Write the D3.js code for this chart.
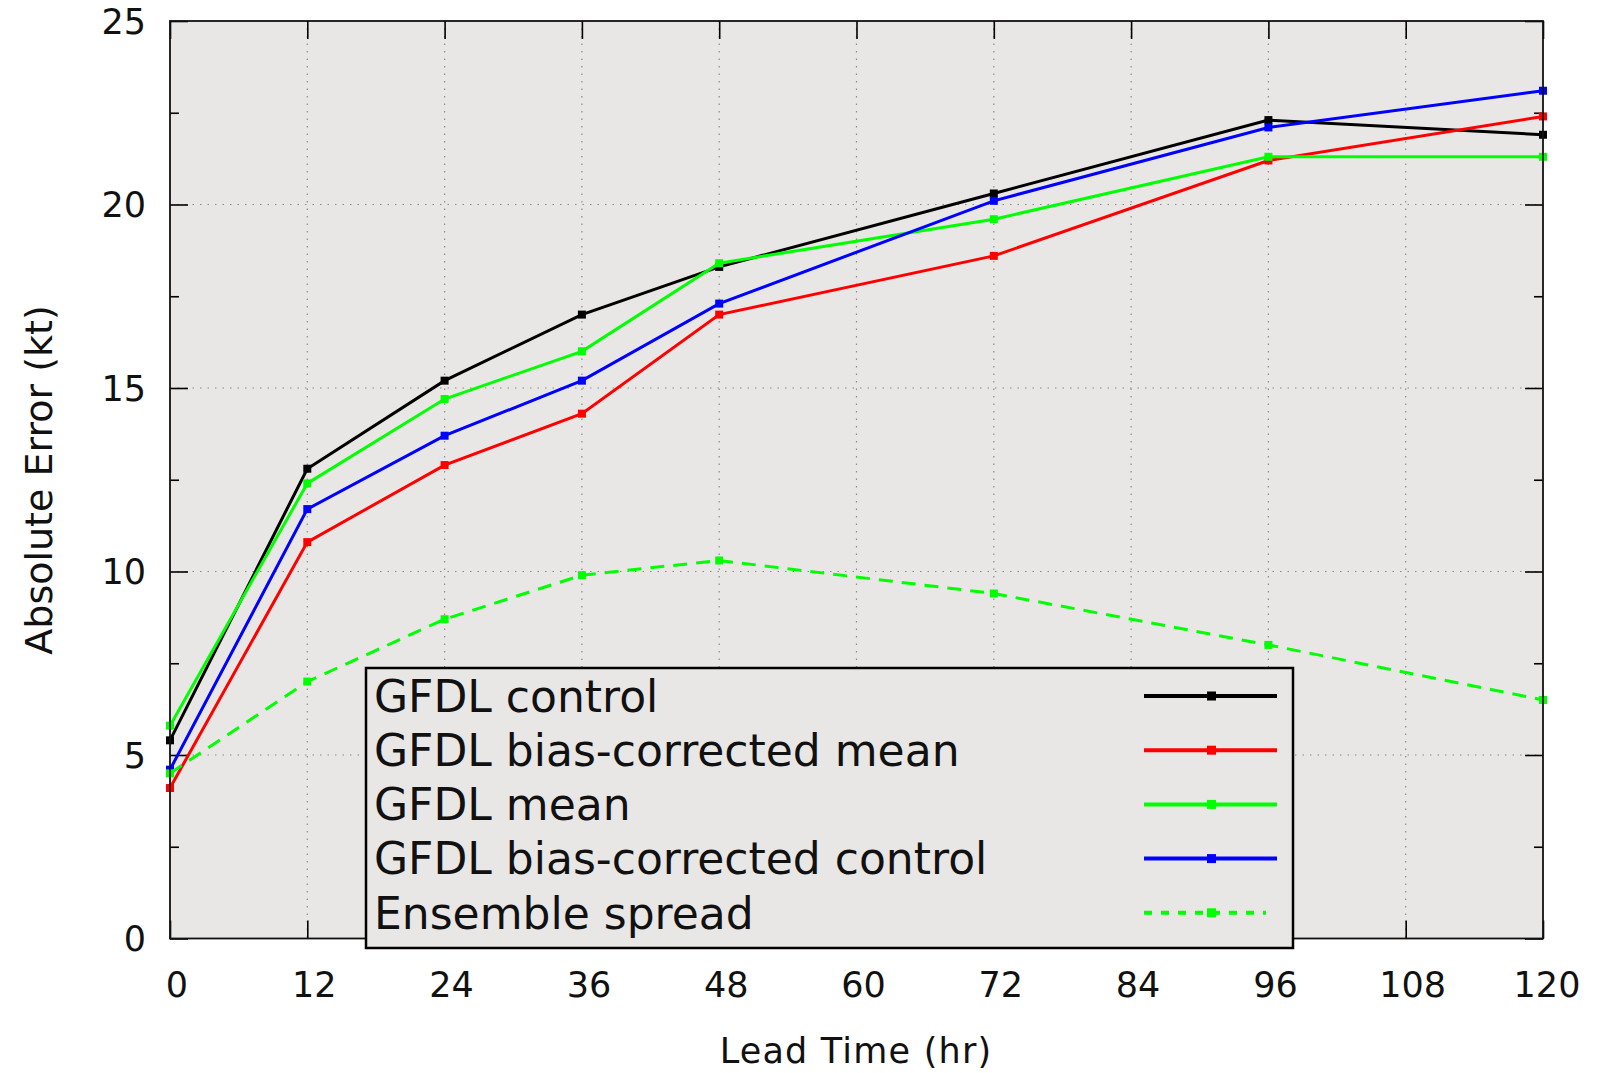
<!DOCTYPE html>
<html><head><meta charset="utf-8">
<script src="https://cdn.jsdelivr.net/npm/d3@7"></script>
<style>html,body{margin:0;padding:0;background:#fff;}svg{display:block;}</style>
</head><body>
<script>
const leadTimes = [0, 12, 24, 36, 48, 72, 96, 120];
const gfdlControl = [5.4, 12.8, 15.2, 17.0, 18.3, 20.3, 22.3, 21.9];
const gfdlBiasCorrectedMean = [4.1, 10.8, 12.9, 14.3, 17.0, 18.6, 21.2, 22.4];
const gfdlMean = [5.8, 12.4, 14.7, 16.0, 18.4, 19.6, 21.3, 21.3];
const gfdlBiasCorrectedControl = [4.6, 11.7, 13.7, 15.2, 17.3, 20.1, 22.1, 23.1];
const ensembleSpread = [4.5, 7.0, 8.7, 9.9, 10.3, 9.4, 8.0, 6.5];
const seriesNames = ["GFDL control", "GFDL bias-corrected mean", "GFDL mean", "GFDL bias-corrected control", "Ensemble spread"];
const xTicks = [0, 12, 24, 36, 48, 60, 72, 84, 96, 108, 120];
const yTicks = [0, 5, 10, 15, 20, 25];
const yMinorTicks = [2.5, 7.5, 12.5, 17.5, 22.5];
const xLabel = "Lead Time (hr)";
const yLabel = "Absolute Error (kt)";

const series = [
  {name: seriesNames[0], values: gfdlControl, color: "#000000", dash: null},
  {name: seriesNames[1], values: gfdlBiasCorrectedMean, color: "#ff0000", dash: null},
  {name: seriesNames[2], values: gfdlMean, color: "#00ff00", dash: null},
  {name: seriesNames[3], values: gfdlBiasCorrectedControl, color: "#0000ff", dash: null},
  {name: seriesNames[4], values: ensembleSpread, color: "#00ff00", dash: "14,9"}
];

const W = 1601, H = 1073;
const L = 170, R = 1543, T = 21, B = 938.5;
const font = "'DejaVu Sans', Verdana, sans-serif";

const svg = d3.select("body").append("svg").attr("width", W).attr("height", H);
const x = d3.scaleLinear().domain([0, 120]).range([L, R]);
const y = d3.scaleLinear().domain([0, 25]).range([B, T]);

svg.append("rect").attr("x", L).attr("y", T).attr("width", R - L).attr("height", B - T).attr("fill", "#e9e7e5");

// grid
const grid = svg.append("g").attr("stroke", "#8a8a8a").attr("stroke-width", 1.2).attr("stroke-dasharray", "1.5,6");
grid.selectAll("line.gx").data(xTicks.slice(1, -1)).join("line")
  .attr("x1", d => x(d)).attr("x2", d => x(d)).attr("y1", T).attr("y2", B);
grid.selectAll("line.gy").data(yTicks.slice(1, -1)).join("line")
  .attr("y1", d => y(d)).attr("y2", d => y(d)).attr("x1", L).attr("x2", R);

// axes with inward ticks (mirror on top/right)
const tickStyle = g => { g.select(".domain").remove(); g.selectAll(".tick line").attr("stroke", "#000").attr("stroke-width", 1.6); };
svg.append("g").attr("transform", `translate(0,${B})`)
  .call(d3.axisBottom(x).tickValues(xTicks).tickSizeInner(-18).tickSizeOuter(0).tickFormat(() => ""))
  .call(tickStyle);
svg.append("g").attr("transform", `translate(0,${T})`)
  .call(d3.axisTop(x).tickValues(xTicks).tickSizeInner(-18).tickSizeOuter(0).tickFormat(() => ""))
  .call(tickStyle);
svg.append("g").attr("transform", `translate(${L},0)`)
  .call(d3.axisLeft(y).tickValues(yTicks).tickSizeInner(-18).tickSizeOuter(0).tickFormat(() => ""))
  .call(tickStyle);
svg.append("g").attr("transform", `translate(${R},0)`)
  .call(d3.axisRight(y).tickValues(yTicks).tickSizeInner(-18).tickSizeOuter(0).tickFormat(() => ""))
  .call(tickStyle);
svg.append("g").attr("transform", `translate(${L},0)`)
  .call(d3.axisLeft(y).tickValues(yMinorTicks).tickSizeInner(-9).tickSizeOuter(0).tickFormat(() => ""))
  .call(tickStyle);
svg.append("g").attr("transform", `translate(${R},0)`)
  .call(d3.axisRight(y).tickValues(yMinorTicks).tickSizeInner(-9).tickSizeOuter(0).tickFormat(() => ""))
  .call(tickStyle);

// tick labels
svg.append("g").selectAll("text").data(yTicks).join("text")
  .attr("x", 146).attr("y", d => y(d)).attr("dy", "0.36em").attr("text-anchor", "end")
  .attr("font-family", font).attr("font-size", 35).attr("fill", "#111").text(d => d);
svg.append("g").selectAll("text").data(xTicks).join("text")
  .attr("x", d => x(d) + (d === 120 ? 4 : 7)).attr("y", 997).attr("text-anchor", "middle")
  .attr("font-family", font).attr("font-size", 35).attr("fill", "#111").text(d => d);

// axis labels
svg.append("text").attr("x", 856).attr("y", 1063).attr("text-anchor", "middle")
  .attr("font-family", font).attr("font-size", 35).attr("letter-spacing", 1.2).attr("fill", "#111").text(xLabel);
svg.append("text").attr("transform", `translate(52,${480}) rotate(-90)`).attr("text-anchor", "middle")
  .attr("font-family", font).attr("font-size", 38).attr("fill", "#111").text(yLabel);

// series lines
const line = d3.line().x(d => x(d[0])).y(d => y(d[1]));
const sg = svg.append("g");
series.forEach(s => {
  const pts = leadTimes.map((t, i) => [t, s.values[i]]);
  sg.append("path").attr("d", line(pts)).attr("fill", "none").attr("stroke", s.color)
    .attr("stroke-width", 3).attr("stroke-dasharray", s.dash).attr("stroke-linejoin", "miter");
  sg.selectAll(null).data(pts).join("rect")
    .attr("x", d => x(d[0]) - 4).attr("y", d => y(d[1]) - 4).attr("width", 8).attr("height", 8).attr("fill", s.color);
});

// border
svg.append("rect").attr("x", L).attr("y", T).attr("width", R - L).attr("height", B - T)
  .attr("fill", "none").attr("stroke", "#111").attr("stroke-width", 1.8);

// legend
const lg = svg.append("g");
const lx0 = 366, ly0 = 668, lx1 = 1293, ly1 = 948;
lg.append("rect").attr("x", lx0).attr("y", ly0).attr("width", lx1 - lx0).attr("height", ly1 - ly0)
  .attr("fill", "#e9e7e5").attr("stroke", "#000").attr("stroke-width", 2.5);
const rowH = 54.2;
series.forEach((s, i) => {
  const cy = ly0 + 28 + i * rowH;
  lg.append("text").attr("x", 374).attr("y", cy).attr("dy", "0.36em")
    .attr("font-family", font).attr("font-size", 44).attr("fill", "#111").text(s.name);
  lg.append("line").attr("x1", 1144).attr("x2", s.dash ? 1266 : 1277).attr("y1", cy).attr("y2", cy)
    .attr("stroke", s.color).attr("stroke-width", 4).attr("stroke-dasharray", s.dash ? "8,9" : null);
  lg.append("rect").attr("x", 1207).attr("y", cy - 4.5).attr("width", 9).attr("height", 9).attr("fill", s.color);
});
</script>
</body></html>
